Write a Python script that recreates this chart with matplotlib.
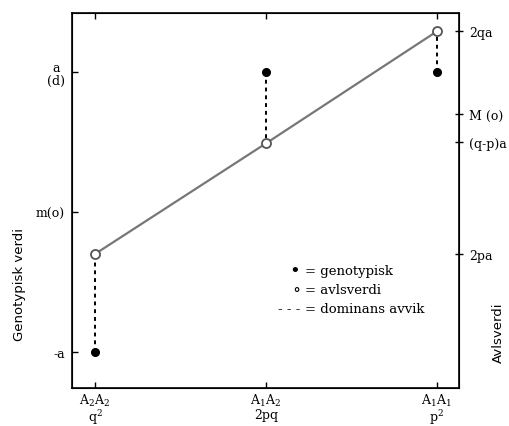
import numpy as np
import matplotlib
matplotlib.use('Agg')
import matplotlib.pyplot as plt

plt.rcParams['font.family'] = 'DejaVu Serif'
plt.rcParams['mathtext.fontset'] = 'dejavuserif'

# Genotypes along the x axis
genotypes = ['A$_2$A$_2$\nq$^2$', 'A$_1$A$_2$\n2pq', 'A$_1$A$_1$\np$^2$']
x_pos = [0, 1, 2]

# Genotypic values (filled dots) and breeding values (open circles), in units of a
genotypic = [-1.0, 1.0, 1.0]
breeding = [-0.30, 0.49, 1.29]

# Left axis ticks (genotypic scale)
left_ticks = [-1.0, 0.0, 1.0]
left_labels = ['-a', 'm(o)', 'a\n(d)']

# Right axis ticks (breeding value scale)
right_ticks = [1.29, 0.70, 0.50, -0.30]
right_labels = ['2qa', 'M (o)', '(q-p)a', '2pa']

fig = plt.figure(figsize=(5.1, 4.27), dpi=100)
ax = fig.add_axes([0.141, 0.089, 0.759, 0.878])

# dominance deviations
for x, g, b in zip(x_pos, genotypic, breeding):
    ax.plot([x, x], [g, b], color='black', linestyle=(0, (2, 2)), linewidth=1.4, zorder=2)

# breeding value line + open circles
ax.plot(x_pos, breeding, color='#777777', linewidth=1.6, zorder=3)
ax.plot(x_pos, breeding, linestyle='none', marker='o', markersize=6.5,
        markerfacecolor='white', markeredgecolor='#555555', markeredgewidth=1.3, zorder=4)

# genotypic values
ax.plot(x_pos, genotypic, linestyle='none', marker='o', markersize=5.5,
        color='black', zorder=4)

ax.set_xlim(-0.135, 2.13)
ax.set_ylim(-1.257, 1.421)

ax.set_xticks(x_pos)
ax.set_xticklabels(genotypes, fontsize=9, linespacing=0.95)
for lbl in ax.get_xticklabels():
    lbl.set_multialignment('center')

ax.set_yticks(left_ticks)
ax.set_yticklabels(left_labels, fontsize=9, linespacing=1.05)
for lbl in ax.get_yticklabels():
    lbl.set_multialignment('center')

ax.tick_params(axis='both', direction='in', length=4, width=1, top=True)
ax.tick_params(axis='x', pad=3)
ax.tick_params(axis='y', pad=5)
for s in ax.spines.values():
    s.set_linewidth(1.2)

ax2 = ax.twinx()
ax2.set_ylim(ax.get_ylim())
ax2.set_yticks(right_ticks)
ax2.set_yticklabels(right_labels, fontsize=9)
ax2.tick_params(axis='y', direction='inout', length=6, width=1, pad=4)

ax.set_ylabel('Genotypisk verdi', family='DejaVu Sans', fontsize=9.5)
ax.yaxis.set_label_coords(-0.118, 0.28)
ax2.set_ylabel('Avlsverdi', family='DejaVu Sans', fontsize=9.5)
ax2.yaxis.set_label_coords(1.085, 0.15)

# legend as text
legend_sym = ['\u2022', '\u2218', '- - -']
legend_sz = [13, 12, 9.5]
legend_txt = ['= genotypisk', '= avlsverdi', '= dominans avvik']
legend_y = [-0.42, -0.55, -0.69]
for sym, sz, txt, y in zip(legend_sym, legend_sz, legend_txt, legend_y):
    ax.text(1.20, y, sym, ha='right', va='center', fontsize=sz)
    ax.text(1.23, y, txt, ha='left', va='center', fontsize=9.5)

fig.savefig('out.png', dpi=100)
